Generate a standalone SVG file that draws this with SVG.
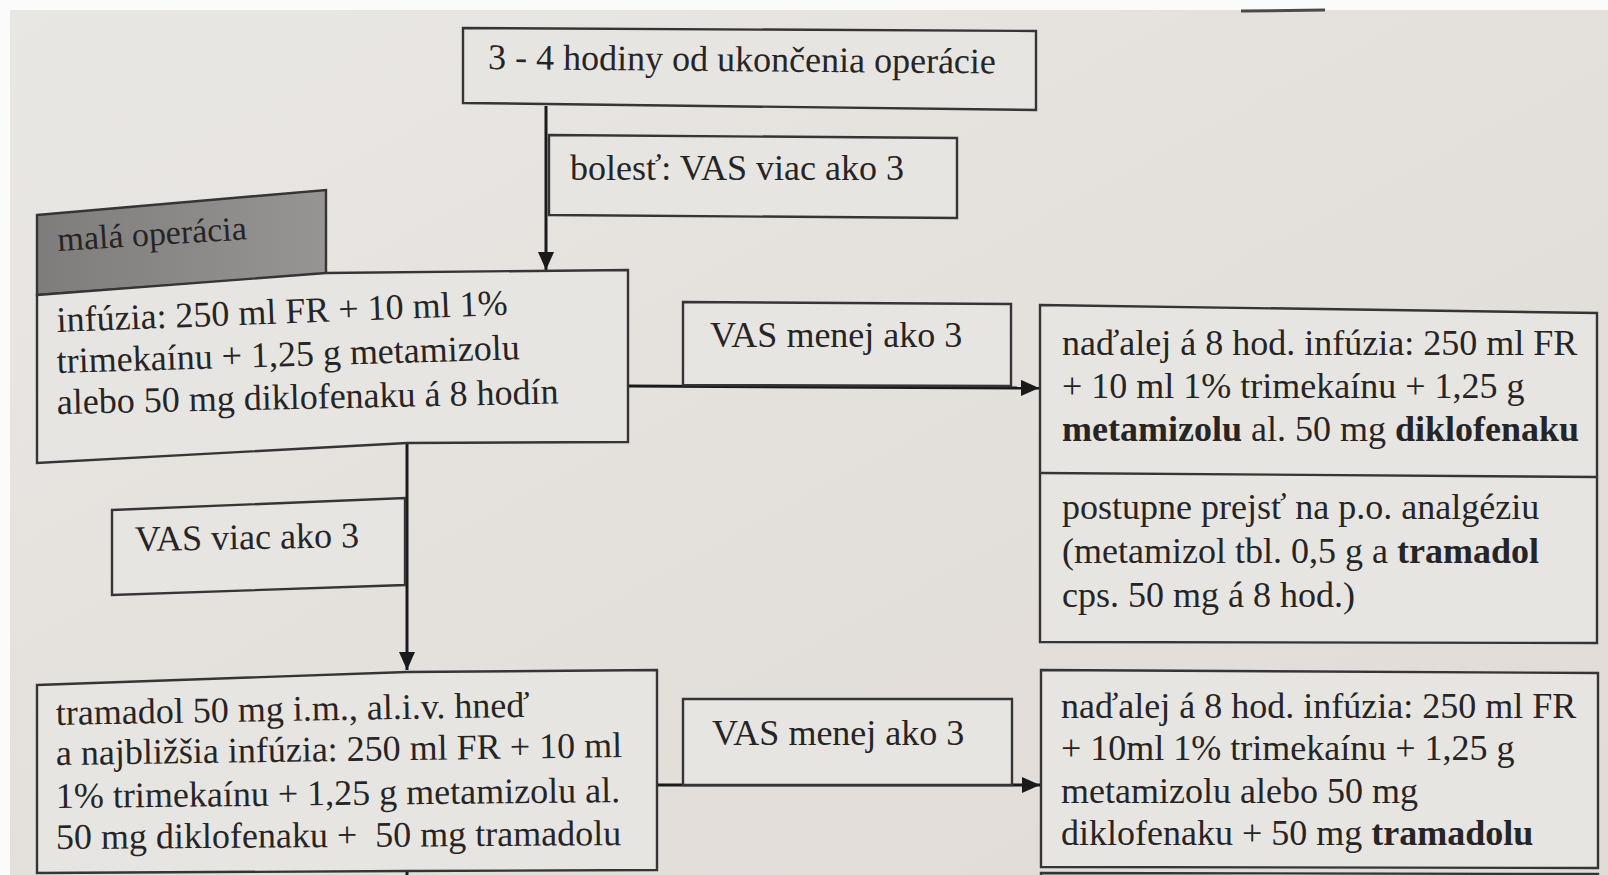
<svg xmlns="http://www.w3.org/2000/svg" width="1608" height="875" viewBox="0 0 1608 875">
<style>
text{font-family:"Liberation Serif","Times New Roman",serif;font-size:36px;fill:#262424}
.box{fill:#e7e5e2;stroke:#363434;stroke-width:2.4}
.hdr{fill:url(#hg);stroke:#363434;stroke-width:2.4}
.conn{stroke:#1a1a1a;stroke-width:3;fill:none}
.b{font-weight:bold}
</style>
<defs>
<linearGradient id="bg" x1="0" y1="0" x2="1" y2="1">
<stop offset="0" stop-color="#e9e7e4"/>
<stop offset="0.6" stop-color="#e3dfdb"/>
<stop offset="1" stop-color="#e2dbd8"/>
</linearGradient>
<linearGradient id="hg" x1="0" y1="0" x2="1" y2="0">
<stop offset="0" stop-color="#7f7d7b"/>
<stop offset="1" stop-color="#979593"/>
</linearGradient>
<marker id="arr" markerUnits="userSpaceOnUse" markerWidth="20" markerHeight="16" refX="18" refY="8" orient="auto">
<path d="M0,0 L18,8 L0,16 Z" fill="#1a1a1a"/>
</marker>
</defs>
<rect x="0" y="0" width="1608" height="875" fill="#fbfbfb"/>
<rect x="10" y="10" width="1598" height="865" fill="url(#bg)"/>
<line x1="1241" y1="11" x2="1325" y2="10" stroke="#4a4a4a" stroke-width="3"/>

<g id="connectors">
<line class="conn" x1="546" y1="106" x2="546" y2="270" marker-end="url(#arr)"/>
<line class="conn" x1="628" y1="386" x2="1039" y2="388" marker-end="url(#arr)"/>
<line class="conn" x1="407" y1="443" x2="407" y2="670" marker-end="url(#arr)"/>
<line class="conn" x1="657" y1="785" x2="1040" y2="785" marker-end="url(#arr)"/>
<line class="conn" x1="407" y1="871" x2="407" y2="880"/>
</g>

<g id="node-start">
<polygon class="box" points="463,28 1036,31 1036,110 463,103"/>
<text x="488" y="69" transform="rotate(0.5 488 69)">3 - 4 hodiny od ukončenia operácie</text>
</g>

<g id="label-bolest">
<polygon class="box" points="549,135 957,138 957,218 549,215"/>
<text x="570" y="180">bolesť: VAS viac ako 3</text>
</g>

<g id="node-mala-operacia-header">
<polygon class="hdr" points="37,215 326,190 326,274 37,295"/>
<text x="58" y="251" style="font-size:34px" transform="rotate(-3.5 58 251)">malá operácia</text>
</g>

<g id="node-infuzia">
<polygon class="box" points="37,295 326,273 628,270 628,442 407,443 37,463"/>
<text x="57" y="332" transform="rotate(-2.2 57 332)">infúzia: 250 ml FR + 10 ml 1%</text>
<text x="57" y="373" transform="rotate(-1.7 57 373)">trimekaínu + 1,25 g metamizolu</text>
<text x="57" y="414" transform="rotate(-1.2 57 414)">alebo 50 mg diklofenaku á 8 hodín</text>
</g>

<g id="label-vas-menej-1">
<polygon class="box" points="683,302 1011,304 1011,386 683,385"/>
<text x="710" y="347">VAS menej ako 3</text>
</g>

<g id="node-nadalej-1">
<polygon class="box" points="1040,305 1597,313 1597,643 1040,642"/>
<line x1="1040" y1="473" x2="1597" y2="477" stroke="#363434" stroke-width="2.4"/>
<text x="1062" y="355">naďalej á 8 hod. infúzia: 250 ml FR</text>
<text x="1062" y="398">+ 10 ml 1% trimekaínu + 1,25 g</text>
<text x="1062" y="441"><tspan class="b">metamizolu</tspan> al. 50 mg <tspan class="b">diklofenaku</tspan></text>
<text x="1062" y="519">postupne prejsť na p.o. analgéziu</text>
<text x="1062" y="563">(metamizol tbl. 0,5 g a <tspan class="b">tramadol</tspan></text>
<text x="1062" y="607">cps. 50 mg á 8 hod.)</text>
</g>

<g id="label-vas-viac">
<polygon class="box" points="112,510 405,498 405,585 112,595"/>
<text x="135" y="551" transform="rotate(-1 135 551)">VAS viac ako 3</text>
</g>

<g id="node-tramadol">
<polygon class="box" points="37,685 407,672 657,670 657,870 407,871 37,873"/>
<text x="56" y="725" transform="rotate(-1 56 725)">tramadol 50 mg i.m., al.i.v. hneď</text>
<text x="56" y="765" transform="rotate(-0.8 56 765)">a najbližšia infúzia: 250 ml FR + 10 ml</text>
<text x="56" y="808" transform="rotate(-0.6 56 808)">1% trimekaínu + 1,25 g metamizolu al.</text>
<text x="56" y="849" xml:space="preserve" transform="rotate(-0.4 56 849)">50 mg diklofenaku +  50 mg tramadolu</text>
</g>

<g id="label-vas-menej-2">
<polygon class="box" points="683,699 1012,699 1012,785 683,785"/>
<text x="712" y="745">VAS menej ako 3</text>
</g>

<g id="node-nadalej-2">
<polygon class="box" points="1041,670 1598,673 1598,868 1041,867"/>
<text x="1061" y="718">naďalej á 8 hod. infúzia: 250 ml FR</text>
<text x="1061" y="760">+ 10ml 1% trimekaínu + 1,25 g</text>
<text x="1061" y="803">metamizolu alebo 50 mg</text>
<text x="1061" y="845">diklofenaku + 50 mg <tspan class="b">tramadolu</tspan></text>
</g>

<g id="node-next">
<polygon class="box" points="1041,873 1598,874 1598,900 1041,900"/>
</g>
</svg>
